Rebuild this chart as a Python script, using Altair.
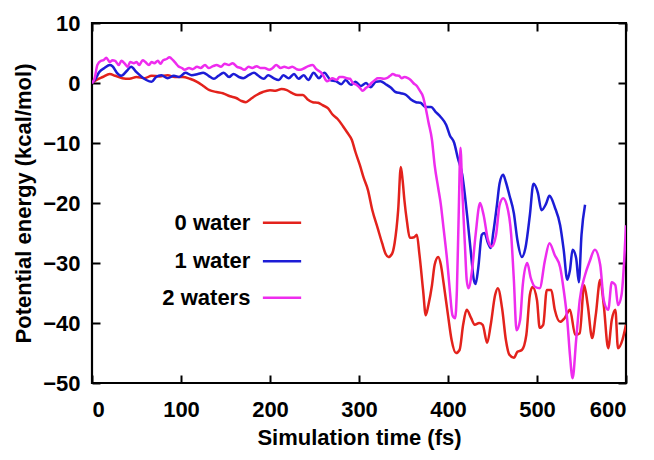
import altair as alt
import pandas as pd

series_names = ["0 water", "1 water", "2 waters"]
series_colors = ["#e3221c", "#1c1cd6", "#ee2cee"]
x_ticks = [0, 100, 200, 300, 400, 500, 600]
y_ticks = [-50, -40, -30, -20, -10, 0, 10]

red_time = [0, 5, 12, 20, 26, 34, 42, 50, 59, 67, 76, 85, 93, 102, 110, 118, 125, 132, 140, 147,
            155, 162, 168, 173, 178, 185, 192, 200, 206, 213, 219, 225, 231, 237, 242, 248, 254, 259,
            265, 270, 276, 282, 287, 292, 296, 301, 305, 310, 315, 321, 326, 330, 333, 337, 340, 344,
            347, 349, 351, 354, 357, 362, 365, 368, 372, 375, 378, 382, 385, 389, 392, 395, 400, 404,
            409, 413, 417, 421, 426, 430, 435, 439, 444, 448, 453, 456, 461, 465, 469, 474, 478, 483,
            488, 492, 495, 500, 503, 507, 511, 516, 520, 526, 531, 537, 543, 548, 553, 557, 562, 566,
            571, 575, 580, 584, 588, 591, 596, 600]
red_energy = [0, 0.5, 1.0, 1.5, 1.2, 0.8, 0.7, 1.0, 0.8, 1.2, 1.1, 1.3, 1.0, 1.0, 0.7, 0.2, -0.5, -1.2,
              -1.5, -1.7, -2.2, -2.5, -3.0, -3.2, -2.7, -2.0, -1.5, -1.2, -1.3, -1.0, -1.2, -1.7, -2.0,
              -2.0, -2.7, -3.2, -3.3, -3.7, -4.2, -5.2, -6.0, -7.2, -8.3, -9.5, -11.5, -13.7, -15.7,
              -17.8, -21.2, -24.2, -26.7, -28.5, -29.0, -28.5, -26.7, -21.2, -14.0, -16.2, -19.5,
              -23.2, -25.8, -25.7, -25.3, -28.7, -34.5, -38.7, -37.0, -33.7, -30.3, -29.0, -30.3,
              -33.3, -38.7, -42.8, -45.0, -44.5, -40.3, -37.8, -39.2, -40.3, -40.0, -40.3, -43.3,
              -40.3, -35.3, -34.2, -37.8, -42.8, -45.3, -45.8, -44.8, -44.5, -42.0, -35.3, -34.0,
              -36.2, -40.8, -40.3, -34.5, -34.5, -37.8, -39.8, -39.2, -37.8, -42.0, -41.7, -33.7,
              -37.0, -42.5, -38.7, -32.8, -37.0, -44.2, -39.5, -37.8, -44.2, -42.8, -40.3]

blue_time = [0, 4, 8, 14, 20, 23, 28, 33, 39, 44, 50, 56, 61, 67, 72, 78, 85, 92, 98, 105, 112, 119,
             125, 131, 137, 142, 148, 154, 159, 165, 170, 176, 182, 187, 193, 198, 204, 210, 215, 221,
             227, 232, 238, 243, 249, 255, 261, 268, 274, 280, 285, 291, 296, 302, 308, 313, 319, 324,
             330, 336, 341, 347, 353, 358, 364, 369, 375, 381, 386, 392, 398, 402, 407, 411, 416, 419,
             422, 426, 429, 431, 434, 438, 441, 445, 448, 451, 455, 458, 462, 465, 469, 474, 478, 483,
             487, 492, 496, 501, 505, 510, 514, 520, 526, 530, 534, 537, 540, 544, 547, 550, 554]
blue_energy = [0, 0.7, 1.8, 2.5, 3.0, 2.8, 1.7, 1.2, 2.0, 2.7, 1.8, 1.0, 0.5, 0.2, 1.0, 1.3, 0.8, 1.2,
               1.0, 1.7, 1.3, 1.5, 1.7, 1.2, 0.7, 1.2, 1.7, 1.0, 1.5, 1.0, 0.8, 1.3, 1.7, 1.2, 0.7, 1.3,
               0.8, 0.5, 1.3, 0.8, 1.5, 0.7, 1.3, 0.5, 1.7, 0.8, 1.7, 0.5, 0.3, -0.2, 0.5, -0.3, 0.2,
               -0.5, 0, -0.7, 0.2, 0.3, -0.2, -0.8, -1.5, -1.7, -2.0, -2.7, -3.2, -3.3, -4.0, -4.0,
               -4.8, -5.7, -7.0, -8.7, -10.0, -12.5, -15.3, -18.7, -22.8, -28.7, -32.8, -33.5, -30.8,
               -25.3, -25.0, -26.7, -27.5, -24.8, -20.3, -16.7, -15.3, -16.5, -18.7, -21.7, -26.2,
               -29.0, -27.5, -22.0, -16.8, -18.3, -21.2, -20.2, -18.8, -20.7, -23.7, -27.8, -32.8,
               -31.2, -27.8, -29.2, -33.2, -25.3, -20.3]

magenta_time = [0, 3, 6, 10, 13, 16, 20, 23, 26, 30, 33, 37, 40, 43, 47, 50, 53, 57, 60, 64, 67, 70,
                74, 77, 80, 84, 87, 91, 94, 97, 101, 104, 109, 113, 118, 122, 127, 131, 136, 140, 145,
                149, 154, 158, 163, 167, 171, 176, 180, 185, 189, 194, 199, 203, 207, 212, 216, 221,
                225, 230, 234, 239, 243, 248, 252, 257, 260, 264, 267, 270, 275, 278, 282, 286, 290,
                293, 297, 301, 304, 308, 311, 314, 318, 321, 324, 328, 331, 335, 338, 341, 345, 348,
                351, 355, 358, 361, 365, 368, 372, 375, 378, 382, 385, 389, 392, 395, 399, 402, 405,
                408, 410, 412, 414, 416, 419, 421, 423, 427, 431, 436, 440, 445, 449, 454, 458, 462,
                466, 471, 474, 477, 481, 484, 489, 493, 498, 503, 509, 514, 520, 526, 530, 534, 537,
                540, 544, 548, 554, 559, 565, 571, 575, 580, 584, 588, 591, 595, 598, 600]
magenta_energy = [0, 0.8, 3.0, 3.7, 3.8, 4.2, 3.5, 3.8, 3.7, 3.0, 3.7, 3.2, 2.7, 3.5, 3.3, 3.5, 3.0,
                  3.8, 3.5, 3.0, 3.5, 3.3, 3.7, 3.2, 3.8, 4.0, 4.3, 3.8, 3.3, 2.8, 2.5, 2.2, 2.5, 2.3,
                  2.7, 2.5, 3.0, 2.5, 2.8, 3.0, 2.7, 3.2, 3.0, 3.3, 2.7, 2.5, 2.2, 2.7, 2.5, 2.8, 2.5,
                  2.5, 2.2, 2.5, 3.0, 2.5, 2.7, 2.5, 2.7, 2.3, 2.2, 2.5, 2.8, 3.0, 2.3, 1.8, 1.2, 0.3,
                  0.5, 0.8, 0.5, 1.0, 1.0, 0.8, 0.7, 0, -0.3, -0.8, -1.3, -0.8, -0.5, 0, 0.5, 0.8, 0.8,
                  0.7, 0.8, 1.2, 1.5, 1.3, 1.2, 0.8, 1.0, 0.8, 0.5, 0, -0.5, -1.2, -2.3, -4.2, -6.5,
                  -9.5, -13.7, -17.5, -20.3, -24.2, -29.5, -34.5, -38.7, -39.2, -34.5, -22.0, -10.8,
                  -17.8, -27.0, -32.8, -34.2, -31.2, -25.3, -20.0, -22.0, -26.2, -27.3, -25.3, -20.3,
                  -19.2, -20.3, -25.3, -32.8, -41.2, -39.5, -33.7, -30.0, -32.5, -34.0, -34.2, -29.5,
                  -26.7, -28.7, -30.7, -34.5, -39.5, -45.3, -49.2, -42.8, -36.2, -32.0, -29.8, -27.8,
                  -30.3, -36.2, -37.8, -33.2, -33.7, -37.0, -35.3, -29.5, -23.7]

# legend key placement (in data units, inside the plot)
legend_rows = [-23.3, -29.7, -35.8]
legend_line_start = 192
legend_line_end = 235
legend_label_end = 178

frames = []
for name, t, v in [(series_names[0], red_time, red_energy),
                   (series_names[1], blue_time, blue_energy),
                   (series_names[2], magenta_time, magenta_energy)]:
    frames.append(pd.DataFrame({"time": t, "energy": v, "series": name}))
df = pd.concat(frames, ignore_index=True)

leg = pd.DataFrame({"series": series_names, "y": legend_rows,
                    "x1": [legend_line_start] * 3, "x2": [legend_line_end] * 3,
                    "xt": [legend_label_end] * 3})

FONT = "Liberation Sans"
xs = alt.Scale(domain=[0, 600], nice=False, zero=False)
ys = alt.Scale(domain=[-50, 10], nice=False, zero=False)
cs = alt.Scale(domain=series_names, range=series_colors)

lines = alt.Chart(df).mark_line(strokeWidth=2.5, interpolate="monotone", clip=True).encode(
    x=alt.X("time:Q", scale=xs,
            axis=alt.Axis(orient="bottom", values=x_ticks, domain=False, ticks=False, grid=False,
                          labelPadding=16, labelFontSize=22, labelFont=FONT, labelFontWeight="bold",
                          labelColor="black", title="Simulation time (fs)", titleFontSize=22,
                          titleFont=FONT, titleFontWeight="bold", titleColor="black", titlePadding=7)),
    y=alt.Y("energy:Q", scale=ys,
            axis=alt.Axis(orient="left", values=y_ticks, domain=False, ticks=False, grid=False,
                          labelPadding=12, labelFontSize=22, labelFont=FONT, labelFontWeight="bold",
                          labelColor="black", title="Potential energy (kcal/mol)", titleFontSize=22,
                          titleFont=FONT, titleFontWeight="bold", titleColor="black", titlePadding=7)),
    color=alt.Color("series:N", scale=cs, legend=None),
)

leg_lines = alt.Chart(leg).mark_rule(strokeWidth=2.5).encode(
    x=alt.X("x1:Q", scale=xs, axis=None),
    x2="x2:Q",
    y=alt.Y("y:Q", scale=ys, axis=None),
    color=alt.Color("series:N", scale=cs, legend=None),
)
leg_text = alt.Chart(leg).mark_text(align="right", baseline="middle", font=FONT, fontSize=22,
                                    fontWeight="bold", color="black").encode(
    x=alt.X("xt:Q", scale=xs, axis=None),
    y=alt.Y("y:Q", scale=ys, axis=None),
    text="series:N",
)

tick_axis = dict(domain=False, labels=False, grid=False, tickSize=8, tickWidth=2, tickColor="black",
                 offset=-8, title=None)

ticks_bl = alt.Chart(df).mark_point(opacity=0, size=1).encode(
    x=alt.X("time:Q", scale=xs, axis=alt.Axis(orient="bottom", values=x_ticks, **tick_axis)),
    y=alt.Y("energy:Q", scale=ys, axis=alt.Axis(orient="left", values=y_ticks, **tick_axis)),
)
ticks_tr = alt.Chart(df).mark_point(opacity=0, size=1).encode(
    x=alt.X("time:Q", scale=xs, axis=alt.Axis(orient="top", values=x_ticks, **tick_axis)),
    y=alt.Y("energy:Q", scale=ys, axis=alt.Axis(orient="right", values=y_ticks, **tick_axis)),
)

chart = alt.layer(lines, leg_lines, leg_text, ticks_bl, ticks_tr).resolve_axis(
    x="independent", y="independent"
).properties(
    width=534, height=360,
    autosize=alt.AutoSizeParams(type="none"),
    padding={"left": 84, "top": 15, "right": 20, "bottom": 69},
).configure_view(stroke="black", strokeWidth=2.2)

chart.save("out.html", embed_options={"renderer": "svg", "actions": False})
